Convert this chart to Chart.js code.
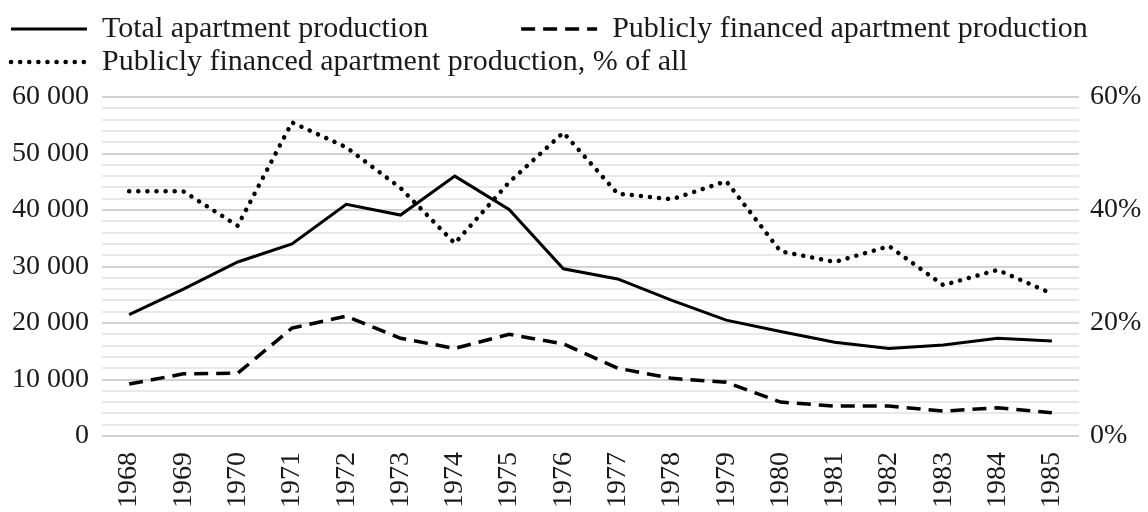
<!DOCTYPE html>
<html>
<head>
<meta charset="utf-8">
<script src="https://cdn.jsdelivr.net/npm/chart.js@4"></script>
<style>
  body { margin: 0; background: #fff; }
  #wrap { width: 1148px; height: 512px; }
</style>
</head>
<body>
<div id="wrap"><canvas id="housingChart"></canvas></div>
<script>
// years on the x axis
const years = ["1968", "1969", "1970", "1971", "1972", "1973", "1974", "1975", "1976",
  "1977", "1978", "1979", "1980", "1981", "1982", "1983", "1984", "1985"];

// apartments per year (left axis)
const totalProduction = [21500, 26000, 30800, 34000, 41000, 39100, 46000, 40100, 29600,
  27800, 24000, 20500, 18500, 16600, 15500, 16100, 17300, 16800];
const publicProduction = [9200, 11000, 11100, 19100, 21200, 17300, 15500, 18000, 16300,
  12000, 10200, 9500, 6000, 5300, 5300, 4400, 5000, 4100];

// share of public production, % (right axis)
const publicShare = [43.3, 43.3, 37.2, 55.5, 51.1, 43.9, 34.1, 44.9, 53.7,
  42.9, 41.9, 45.1, 32.7, 30.8, 33.6, 26.7, 29.4, 25.2];

const seriesLabels = [
  "Total apartment production",
  "Publicly financed apartment production",
  "Publicly financed apartment production, % of all",
];

const font = "'Liberation Serif', 'Times New Roman', serif";
const textColor = "#1a1a1a";

// 60000 -> "60 000"
function spaced(v) {
  return String(v).replace(/\B(?=(\d{3})+(?!\d))/g, " ");
}

// leave some extra room under the legend rows
const legendGap = {
  id: "legendGap",
  beforeLayout(chart) {
    const legend = chart.legend;
    if (!legend || legend._gapPatched) return;
    const fit = legend.fit;
    legend.fit = function () {
      fit.call(this);
      this.height += 10;
    };
    legend._gapPatched = true;
  },
};

const ctx = document.getElementById("housingChart").getContext("2d");
new Chart(ctx, {
  type: "line",
  data: {
    labels: years,
    datasets: [
      {
        label: seriesLabels[0],
        data: totalProduction,
        yAxisID: "y",
        borderColor: "#000",
        backgroundColor: "#000",
        borderWidth: 3,
      },
      {
        label: seriesLabels[1],
        data: publicProduction,
        yAxisID: "y",
        borderColor: "#000",
        backgroundColor: "#000",
        borderWidth: 3.5,
        borderDash: [14, 8],
      },
      {
        label: seriesLabels[2],
        data: publicShare,
        yAxisID: "y1",
        borderColor: "#000",
        backgroundColor: "#000",
        borderWidth: 4.5,
        borderDash: [0.1, 9],
        borderCapStyle: "round",
      },
    ],
  },
  plugins: [legendGap],
  options: {
    responsive: true,
    maintainAspectRatio: false,
    animation: false,
    layout: { padding: { top: 11, left: 8, right: 0, bottom: 0 } },
    elements: {
      point: { radius: 0, hoverRadius: 0 },
      line: { tension: 0 },
    },
    plugins: {
      tooltip: { enabled: false },
      legend: {
        position: "top",
        align: "start",
        labels: {
          color: textColor,
          font: { family: font, size: 30 },
          usePointStyle: true,
          pointStyle: "line",
          pointStyleWidth: 76,
          padding: 3,
          generateLabels(chart) {
            const items = Chart.defaults.plugins.legend.labels.generateLabels(chart);
            items.forEach((item, i) => {
              const ds = chart.data.datasets[i];
              item.lineWidth = ds.borderWidth;
              item.lineDash = ds.borderDash || [];
              item.lineCap = ds.borderCapStyle || "butt";
              item.strokeStyle = ds.borderColor;
            });
            // wider gap after the first entry, like the original
            items[0].text += " ".repeat(12);
            return items;
          },
        },
      },
    },
    scales: {
      x: {
        offset: true,
        grid: { display: false },
        border: { display: false },
        ticks: {
          color: textColor,
          font: { family: font, size: 28 },
          minRotation: 90,
          maxRotation: 90,
          autoSkip: false,
          padding: 8,
        },
        afterFit(scale) {
          scale.height = 76;
        },
      },
      y: {
        position: "left",
        min: 0,
        max: 60000,
        border: { display: false },
        grid: {
          drawTicks: false,
          lineWidth: 2,
          color: (c) => (c.tick.value % 10000 === 0 ? "#d2d2d2" : "#e8e8e8"),
        },
        ticks: {
          stepSize: 2000,
          autoSkip: false,
          color: textColor,
          font: { family: font, size: 28 },
          padding: 13,
          callback: (v) => (v % 10000 === 0 ? spaced(v) : ""),
        },
        afterFit(scale) {
          scale.width = 94;
        },
      },
      y1: {
        position: "right",
        min: 0,
        max: 60,
        border: { display: false },
        grid: { display: false, drawTicks: false },
        ticks: {
          stepSize: 20,
          color: textColor,
          font: { family: font, size: 28 },
          padding: 11,
          callback: (v) => v + "%",
        },
        afterFit(scale) {
          scale.width = 69;
        },
      },
    },
  },
});
</script>
</body>
</html>
